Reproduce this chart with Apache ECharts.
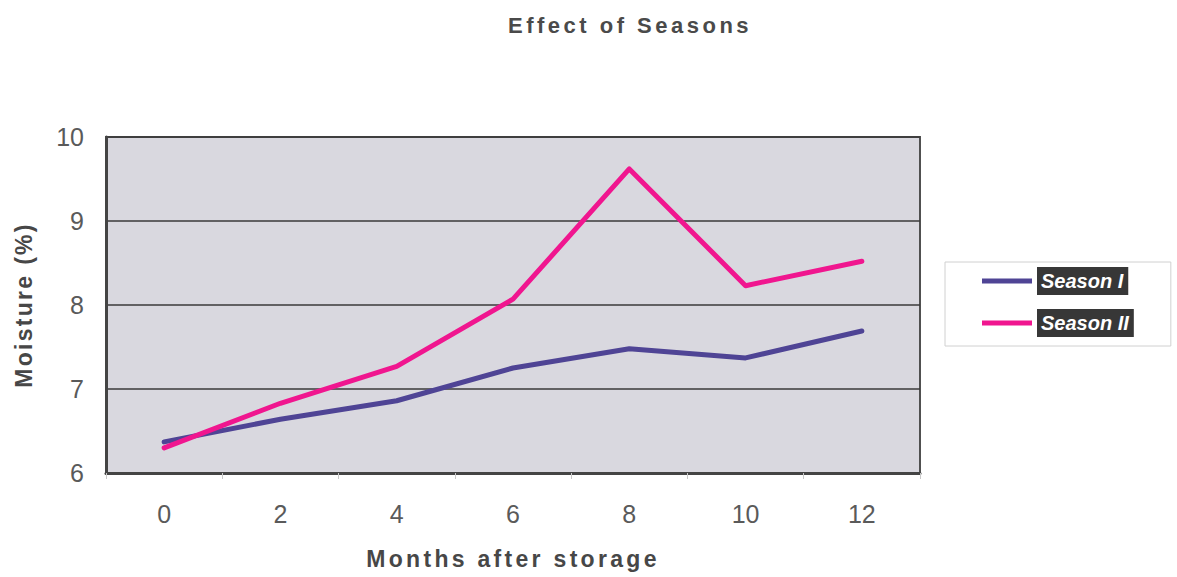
<!DOCTYPE html>
<html>
<head>
<meta charset="utf-8">
<title>Effect of Seasons</title>
<script src="https://cdn.jsdelivr.net/npm/echarts@6/dist/echarts.min.js"></script>
<style>
  html, body { margin: 0; padding: 0; background: #ffffff; }
  #chart { width: 1177px; height: 577px; }
</style>
</head>
<body>
<div id="chart"></div>
<script>
// Months after storage
const months = ['0', '2', '4', '6', '8', '10', '12'];
// Moisture content (%) for each season
const seasonI = [6.37, 6.64, 6.86, 7.25, 7.48, 7.37, 7.69];
const seasonII = [6.30, 6.83, 7.27, 8.07, 9.62, 8.23, 8.52];
const seriesNames = ['Season I', 'Season II'];

const titleText = 'Effect of Seasons';
const xName = 'Months after storage';
const yName = 'Moisture (%)';

// Tracking (px) applied to the widely spaced headings
const tracking = {};
tracking[titleText] = 3.5;
tracking[xName] = 3.3;
tracking[yName] = 2.3;

const chart = echarts.init(document.getElementById('chart'), null, { renderer: 'svg' });

const font = '"Liberation Sans", Arial, sans-serif';

chart.setOption({
  backgroundColor: '#ffffff',
  animation: false,
  title: {
    text: titleText,
    left: 625,
    textAlign: 'center',
    top: 9,
    textStyle: { fontFamily: font, fontSize: 22, fontWeight: 'bold', color: '#4a4a4a' }
  },
  legend: {
    data: seriesNames,
    orient: 'vertical',
    left: 945,
    top: 262,
    padding: [5, 37, 9, 37],
    itemGap: 14,
    itemWidth: 50,
    itemHeight: 5,
    icon: 'rect',
    backgroundColor: '#ffffff',
    borderColor: '#d0d0d0',
    borderWidth: 1,
    textStyle: {
      fontFamily: font,
      fontSize: 20,
      fontWeight: 'bold',
      fontStyle: 'italic',
      color: '#ffffff',
      backgroundColor: '#373737',
      padding: [3, 5, 3, 4],
      lineHeight: 22
    }
  },
  grid: {
    left: 106,
    right: 257,
    top: 137,
    bottom: 104,
    show: true,
    backgroundColor: '#d9d8df',
    borderColor: '#505050',
    borderWidth: 2
  },
  xAxis: {
    type: 'category',
    data: months,
    boundaryGap: true,
    name: xName,
    nameLocation: 'middle',
    nameGap: 74,
    nameTextStyle: { fontFamily: font, fontSize: 23, fontWeight: 'bold', color: '#474747' },
    axisLine: { show: true, lineStyle: { color: '#444444', width: 3 } },
    axisTick: { show: true, length: 6, lineStyle: { color: '#c8c8c8', width: 1 } },
    axisLabel: { fontFamily: font, fontSize: 25, color: '#5a5a5a', margin: 28 },
    splitLine: { show: false }
  },
  yAxis: {
    type: 'value',
    min: 6,
    max: 10,
    interval: 1,
    name: yName,
    nameLocation: 'middle',
    nameGap: 71,
    nameRotate: 90,
    nameTextStyle: { fontFamily: font, fontSize: 23, fontWeight: 'bold', color: '#474747' },
    axisLine: { show: true, lineStyle: { color: '#444444', width: 3 } },
    axisTick: { show: false },
    axisLabel: { fontFamily: font, fontSize: 25, color: '#5a5a5a', margin: 22 },
    splitLine: { show: true, lineStyle: { color: '#3a3a3a', width: 1.5 } }
  },
  series: [
    {
      name: seriesNames[0],
      type: 'line',
      data: seasonI,
      symbol: 'none',
      color: '#4f4495',
      lineStyle: { width: 5, color: '#4f4495', cap: 'round', join: 'round' }
    },
    {
      name: seriesNames[1],
      type: 'line',
      data: seasonII,
      symbol: 'none',
      color: '#f0168f',
      lineStyle: { width: 5, color: '#f0168f', cap: 'round', join: 'round' }
    }
  ]
});

// Widen the letter spacing of the headings in the SVG output
function applyTracking() {
  document.querySelectorAll('#chart svg text').forEach(function (el) {
    const t = el.textContent;
    if (tracking[t] !== undefined) {
      el.setAttribute('letter-spacing', tracking[t] + 'px');
    }
  });
}
applyTracking();
chart.on('finished', applyTracking);
</script>
</body>
</html>
